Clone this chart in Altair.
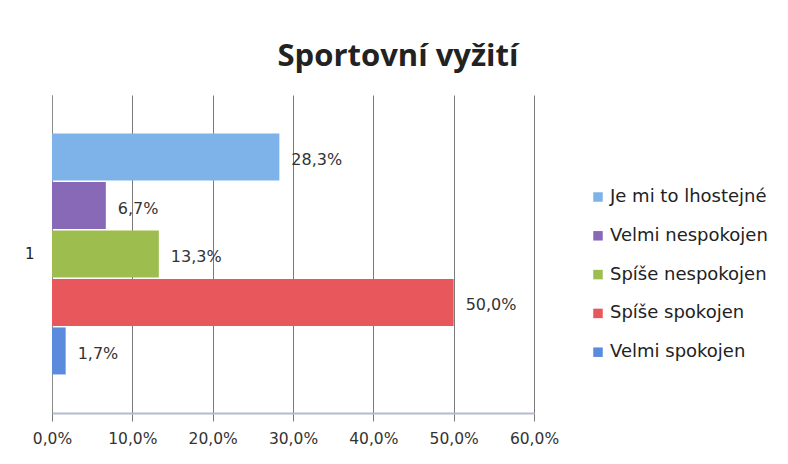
import altair as alt
import pandas as pd

categories = ["Je mi to lhostejné", "Velmi nespokojen", "Spíše nespokojen", "Spíše spokojen", "Velmi spokojen"]
values = [0.283, 0.067, 0.133, 0.500, 0.017]
groups = ["1", "1", "1", "1", "1"]
colors = ["#7DB3E8", "#8869B8", "#9DBE4F", "#E8575C", "#5A8BDC"]
ticks = [0.0, 0.1, 0.2, 0.3, 0.4, 0.5, 0.6]

df = pd.DataFrame({"group": groups, "series": categories, "value": values})

FONT = "DejaVu Sans"
TFONT = "Open Sans"

base = alt.Chart(df).transform_calculate(
    label="replace(format(datum.value, '.1%'), '.', ',')"
).encode(
    y=alt.Y("group:N", title=None,
            scale=alt.Scale(paddingOuter=0.16, paddingInner=0),
            axis=alt.Axis(ticks=False, labelPadding=18, labelFontSize=15, labelFont=FONT,
                          labelColor="#222", domainColor="#8a8a8a", labelAngle=0)),
    yOffset=alt.YOffset("series:N", sort=categories, scale=alt.Scale(paddingInner=0.03)),
    x=alt.X("value:Q", title=None,
            scale=alt.Scale(domain=[0, 0.6], nice=False),
            axis=alt.Axis(values=ticks, labelExpr="replace(format(datum.value, '.1%'), '.', ',')",
                          labelFlush=False,
                          grid=True, gridColor="#7a7a7a", gridWidth=1,
                          domainColor="#b4bccb", domainWidth=2, tickColor="#7a7a7a", tickSize=8,
                          labelFontSize=15.5, labelFont=FONT, labelColor="#333", labelPadding=10)),
)

bars = base.mark_bar().encode(
    color=alt.Color("series:N", sort=categories,
                    scale=alt.Scale(domain=categories, range=colors),
                    legend=alt.Legend(title=None, orient="none", legendX=537, legendY=93,
                                      symbolType="square", symbolSize=90, symbolStrokeWidth=0,
                                      labelFontSize=18, labelFont=FONT, labelColor="#222",
                                      rowPadding=20.8, labelOffset=3))
)

text = base.mark_text(align="left", baseline="middle", dx=12, dy=3, fontSize=16, font=FONT, color="#333").encode(
    text="label:N"
)

chart = (bars + text).properties(
    width=482, height=318,
    title=alt.TitleParams("Sportovní vyžití", font=TFONT, fontSize=31, fontWeight="bold",
                          color="#222", anchor="middle", dx=105, offset=22),
    autosize=alt.AutoSizeParams(type="none"),
    padding={"left": 44, "top": 87, "right": 246, "bottom": 40},
).configure_view(stroke=None)

chart.save("out.html", embed_options={"renderer": "svg", "actions": False})
